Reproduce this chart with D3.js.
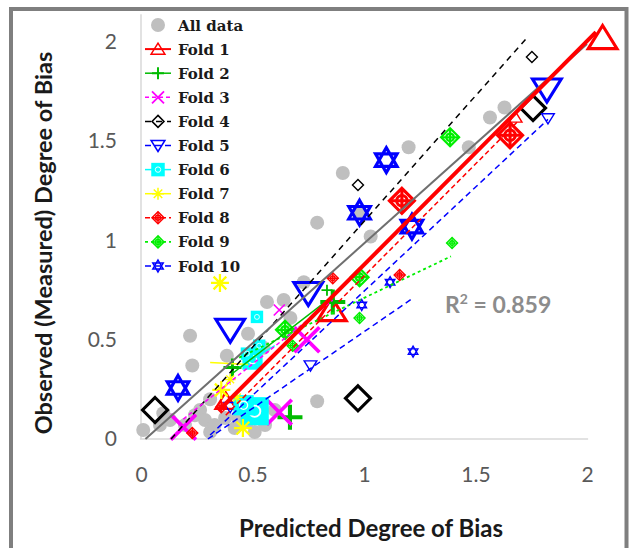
<html>
  <head>
    <title>Observed vs predicted degree of bias</title>
    <style type="text/css">
      body { margin: 0; background: #fff; }
    </style>
    <script src="https://d3js.org/d3.v7.min.js"></script>
  </head>
  <body>
    <svg class="chart"></svg>
    <script>

// data: [predicted, observed, marker weight 1..3]
var allData = [[0.01,0.045],[0.085,0.07],[0.1,0.13],[0.13,0.096],[0.197,0.07],[0.242,0.12],[0.265,0.146],
  [0.287,0.096],[0.31,0.035],[0.33,0.07],[0.31,0.2],[0.377,0.106],[0.42,0.055],[0.435,0.11],[0.466,0.12],
  [0.475,0.086],[0.51,0.035],[0.556,0.07],[0.6,0.146],[0.22,0.52],[0.23,0.37],[0.385,0.42],[0.48,0.53],
  [0.55,0.46],[0.565,0.69],[0.64,0.7],[0.67,0.61],[0.73,0.79],[0.79,0.19],[0.79,1.09],[0.905,1.34],
  [0.98,1.14],[1.03,1.02],[1.2,1.47],[1.47,1.47],[1.565,1.62],[1.63,1.67]];
var fold1 = [[2.07,2.02,3],[0.856,0.65,3],[0.38,0.19,2],[1.68,1.62,1]];
var fold2 = [[0.668,0.11,3],[0.86,0.69,3],[0.834,0.75,1],[0.41,0.36,2]];
var fold3 = [[0.19,0.06,3],[0.62,0.135,3],[0.744,0.5,3],[0.62,0.65,1]];
var fold4 = [[0.063,0.146,3],[0.973,0.205,3],[0.973,1.28,1],[1.753,1.925,1],[1.758,1.667,3]];
var fold5 = [[1.82,1.76,3],[1.825,1.615,1],[0.4,0.55,3],[0.75,0.735,3],[0.76,0.37,1],[0.4,0.16,1]];
var fold6 = [[0.51,0.14,3],[0.46,0.17,2],[0.52,0.615,1],[0.5,0.4,2],[0.475,0.43,1],[0.53,0.47,1]];
var fold7 = [[0.354,0.786,2],[0.36,0.247,2],[0.43,0.21,1],[0.457,0.055,2],[0.4,0.3,1]];
var fold8 = [[1.17,1.2,3],[1.655,1.53,3],[1.16,0.826,1],[0.86,0.81,1],[0.23,0.03,1],[0.36,0.16,1]];
var fold9 = [[1.386,1.52,2],[1.395,0.987,1],[0.98,0.815,2],[0.98,0.61,1],[0.646,0.55,2],[0.68,0.47,1]];
var fold10 = [[0.166,0.257,3],[1.1,1.405,3],[0.98,1.14,3],[1.215,1.07,3],[1.117,0.79,1],[0.99,0.675,1],[1.22,0.44,1]];

// linear trend lines, end points
var trendAll = [[0.02,0.0],[2.0,1.99]];
var trend1 = [[0.35,0.145],[2.04,2.05]];
var trend2 = [[0.41,0.33],[0.86,0.72]];
var trend3 = [[0.19,0.1],[0.86,0.7]];
var trend4 = [[0.135,0.0],[1.73,2.02]];
var trend5 = [[0.31,0.02],[1.825,1.61]];
var trend6 = [[0.44,0.36],[0.6,0.47]];
var trend7 = [[0.31,0.385],[0.48,0.375]];
var trend8 = [[0.38,0.12],[1.69,1.6]];
var trend9 = [[0.44,0.41],[1.39,0.92]];
var trend10 = [[0.3,0.0],[1.22,0.71]];

var ticks = [0, 0.5, 1, 1.5, 2];
var rSquared = "0.859";

var series = [
  {name: "Fold 1", pts: fold1, trend: trend1, shape: "triUp", color: "#ff0000", lw: 4, dash: null},
  {name: "Fold 2", pts: fold2, trend: trend2, shape: "plus", color: "#00bb00", lw: 1.5, dash: null},
  {name: "Fold 3", pts: fold3, trend: trend3, shape: "x", color: "#ff00ff", lw: 1.5, dash: "4,3"},
  {name: "Fold 4", pts: fold4, trend: trend4, shape: "diamond", color: "#000000", lw: 1.5, dash: "6,5"},
  {name: "Fold 5", pts: fold5, trend: trend5, shape: "triDown", color: "#0000ff", lw: 1.5, dash: "6,4"},
  {name: "Fold 6", pts: fold6, trend: trend6, shape: "sqCircle", color: "#00ffff", lw: 1.5, dash: null},
  {name: "Fold 7", pts: fold7, trend: trend7, shape: "asterisk", color: "#ffff00", lw: 1.5, dash: null},
  {name: "Fold 8", pts: fold8, trend: trend8, shape: "diamondCross", color: "#ff0000", lw: 1.5, dash: "5,3"},
  {name: "Fold 9", pts: fold9, trend: trend9, shape: "diamondCross", color: "#00ee00", lw: 1.8, dash: "3,3"},
  {name: "Fold 10", pts: fold10, trend: trend10, shape: "david", color: "#0000ff", lw: 1.5, dash: "6,4"}
];

var W = 629, H = 548;
var svg = d3.select(".chart").attr("width", W).attr("height", H);

var x = d3.scaleLinear().domain([0, 2]).range([141, 587]);
var y = d3.scaleLinear().domain([0, 2]).range([439, 42]);
var size = d3.scaleLinear().domain([1, 3]).range([11, 25]);

// outer frame
svg.append("rect").attr("x", 11).attr("y", 9).attr("width", 615.5).attr("height", 570)
  .attr("fill", "none").attr("stroke", "#7f7f7f").attr("stroke-width", 4);

// axis lines
svg.append("line").attr("x1", x(0)).attr("x2", x(0)).attr("y1", y(0)).attr("y2", y(2.14))
  .attr("stroke", "#d9d9d9").attr("stroke-width", 1.5);
svg.append("line").attr("x1", x(-0.005)).attr("x2", x(2.005)).attr("y1", y(0)).attr("y2", y(0))
  .attr("stroke", "#d9d9d9").attr("stroke-width", 1.5);

var fmt = d3.format("~g");
var gx = svg.append("g").attr("transform", "translate(0," + y(0) + ")")
  .call(d3.axisBottom(x).tickValues(ticks).tickSize(0).tickFormat(fmt));
gx.select(".domain").remove();
gx.selectAll("text").attr("dy", null).attr("y", 43);

var gy = svg.append("g").attr("transform", "translate(" + x(0) + ",0)")
  .call(d3.axisLeft(y).tickValues(ticks).tickSize(0).tickPadding(24).tickFormat(fmt));
gy.select(".domain").remove();

svg.selectAll(".tick text").attr("font-family", "Lato, sans-serif").attr("font-size", 21)
  .attr("fill", "#595959");

// axis titles
svg.append("text").attr("x", 371).attr("y", 537).attr("text-anchor", "middle")
  .attr("font-family", "Lato, sans-serif").attr("font-weight", "bold").attr("font-size", 24)
  .attr("fill", "#1a1a1a").text("Predicted Degree of Bias");
svg.append("text").attr("transform", "translate(52,243) rotate(-90)").attr("text-anchor", "middle")
  .attr("font-family", "Lato, sans-serif").attr("font-weight", "bold").attr("font-size", 23.5)
  .attr("fill", "#1a1a1a").text("Observed (Measured) Degree of Bias");

function marker(g, shape, s, c) {
  var sw = Math.max(1.4, s / 8), r = s / 2;
  if (shape == "circle") {
    g.append("circle").attr("r", r).attr("fill", c);
    return;
  }
  var p = g.append("g").attr("fill", "none").attr("stroke", c).attr("stroke-width", sw);
  if (shape == "triUp") {
    p.append("path").attr("d", "M0," + (-r) + "L" + (r * 1.15) + "," + (r * 0.85) + "L" + (-r * 1.15) + "," + (r * 0.85) + "Z");
  } else if (shape == "triDown") {
    p.append("path").attr("d", "M0," + r + "L" + (r * 1.15) + "," + (-r * 0.85) + "L" + (-r * 1.15) + "," + (-r * 0.85) + "Z");
  } else if (shape == "plus") {
    p.attr("stroke-width", sw * 1.3);
    p.append("path").attr("d", "M" + (-r) + ",0H" + r + "M0," + (-r) + "V" + r);
  } else if (shape == "x") {
    p.attr("stroke-width", sw * 1.2);
    p.append("path").attr("d", "M" + (-r) + "," + (-r) + "L" + r + "," + r + "M" + r + "," + (-r) + "L" + (-r) + "," + r);
  } else if (shape == "diamond") {
    p.append("path").attr("d", "M0," + (-r) + "L" + r + ",0L0," + r + "L" + (-r) + ",0Z");
  } else if (shape == "sqCircle") {
    p.append("rect").attr("x", -r).attr("y", -r).attr("width", s).attr("height", s).attr("fill", c);
    p.append("circle").attr("r", r * 0.45).attr("stroke", "#fff").attr("stroke-width", sw * 0.6);
  } else if (shape == "asterisk") {
    var d = "";
    [0, 45, 90, 135].forEach(function(a) {
      var t = a * Math.PI / 180, dx = r * Math.cos(t), dy = r * Math.sin(t);
      d += "M" + (-dx) + "," + (-dy) + "L" + dx + "," + dy;
    });
    p.append("path").attr("d", d);
  } else if (shape == "diamondCross") {
    p.append("path").attr("d", "M0," + (-r) + "L" + r + ",0L0," + r + "L" + (-r) + ",0Z");
    p.append("circle").attr("r", r * 0.42);
    p.append("path").attr("d", "M" + (-r) + ",0H" + r + "M0," + (-r) + "V" + r);
  } else if (shape == "david") {
    var k = 0.866 * r;
    p.append("path").attr("d", "M0," + (-r) + "L" + k + "," + (r / 2) + "L" + (-k) + "," + (r / 2) + "Z"
      + "M0," + r + "L" + k + "," + (-r / 2) + "L" + (-k) + "," + (-r / 2) + "Z");
  }
}

// markers
var plot = svg.append("g");
allData.forEach(function(d) {
  marker(plot.append("g").attr("transform", "translate(" + x(d[0]) + "," + y(d[1]) + ")"), "circle", 14, "#bfbfbf");
});
series.forEach(function(s) {
  s.pts.forEach(function(d) {
    marker(plot.append("g").attr("transform", "translate(" + x(d[0]) + "," + y(d[1]) + ")"), s.shape, size(d[2]), s.color);
  });
});

// trend lines
var line = d3.line().x(function(d) { return x(d[0]); }).y(function(d) { return y(d[1]); });
series.slice().reverse().forEach(function(s) {
  if (s.name == "Fold 1") return;
  svg.append("path").datum(s.trend).attr("d", line).attr("fill", "none")
    .attr("stroke", s.color).attr("stroke-width", s.lw).attr("stroke-dasharray", s.dash);
});
svg.append("path").datum(trendAll).attr("d", line).attr("fill", "none")
  .attr("stroke", "#6f6f6f").attr("stroke-width", 2);
svg.append("path").datum(trend1).attr("d", line).attr("fill", "none")
  .attr("stroke", "#ff0000").attr("stroke-width", 4);

// R squared label
var rt = svg.append("text").attr("x", 445).attr("y", 313)
  .attr("font-family", "Lato, sans-serif").attr("font-weight", "bold").attr("font-size", 23)
  .attr("fill", "#8c8c8c");
rt.append("tspan").text("R");
rt.append("tspan").attr("font-size", 14).attr("dy", -9).text("2");
rt.append("tspan").attr("dy", 9).text(" = " + rSquared);

// legend
var legend = svg.append("g");
var rows = [{name: "All data", shape: "circle", color: "#bfbfbf"}].concat(series);
rows.forEach(function(s, i) {
  var g = legend.append("g").attr("transform", "translate(0," + (25 + i * 24.1) + ")");
  if (s.shape != "circle") {
    g.append("line").attr("x1", 145).attr("x2", 171).attr("stroke", s.color)
      .attr("stroke-width", Math.min(s.lw, 2)).attr("stroke-dasharray", s.dash);
  }
  marker(g.append("g").attr("transform", "translate(158,0)"), s.shape, s.shape == "circle" ? 14 : 12, s.color);
  g.append("text").attr("x", 178).attr("y", 5.5)
    .attr("font-family", "DejaVu Serif, serif").attr("font-weight", "bold").attr("font-size", 15)
    .attr("fill", "#1a1a1a").text(s.name);
});

</script>
  </body>
</html>
